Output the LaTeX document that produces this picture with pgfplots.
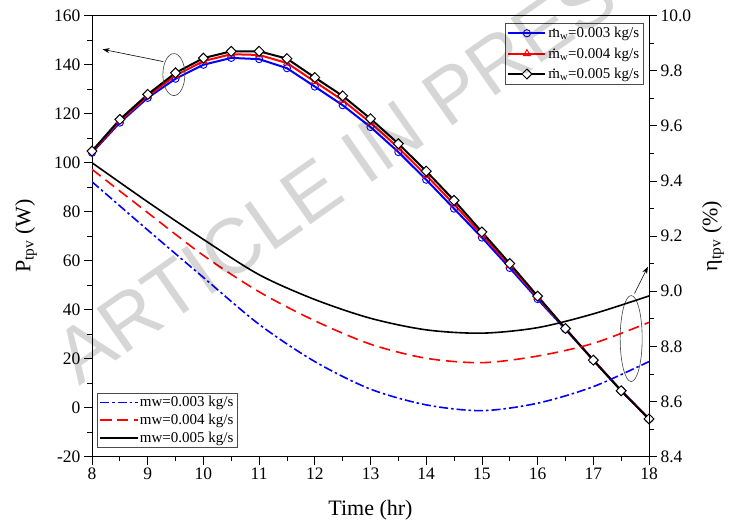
\documentclass[border=0pt]{standalone}
\usepackage{fontspec}
\setmainfont{Liberation Serif}
\newfontfamily\wmfont{Liberation Sans}
\usepackage{pgfplots}
\pgfplotsset{compat=1.18}
\usetikzlibrary{arrows.meta}
\newcommand{\mdot}{m\llap{\raisebox{0.5em}{.}\kern0.264em}}
\pgfplotsset{
  common/.style={
    scale only axis, width=557bp, height=441.2bp,
    at={(0,0)}, anchor=south west,
    xmin=8, xmax=18,
    tick align=outside,
    major tick length=8bp, minor tick length=4.5bp,
    tick style={black, line width=0.8pt},
    axis line style={line width=0.8pt},
    tick label style={font=\fontsize{17.5bp}{20bp}\selectfont},
    /pgf/number format/assume math mode=true,
    legend image code/.code={\draw[mark repeat=2,mark phase=2,##1] plot coordinates {(0bp,0bp)(18.5bp,0bp)(37bp,0bp)};},
  },
}
\begin{document}
\begin{tikzpicture}
\begin{axis}[common,
  ymin=-20, ymax=160,
  xtick={8,9,...,18}, minor x tick num=1,
  ytick={-20,0,20,40,60,80,100,120,140,160}, minor y tick num=1,
  xtick pos=bottom, ytick pos=left,
  xlabel={Time (hr)},
  ylabel={P\textsubscript{tpv} (W)},
  every axis x label/.style={at={(axis description cs:0.5,0)}, yshift=-54bp, anchor=center, font=\fontsize{22bp}{26bp}\selectfont},
  every axis y label/.style={at={(axis description cs:0,0.5)}, xshift=-66bp, rotate=90, anchor=center, font=\fontsize{22bp}{26bp}\selectfont},
  legend style={at={(0.99,0.983)}, anchor=north east, draw=black!70, line width=0.6pt,
    font=\fontsize{15bp}{18bp}\selectfont, row sep=4.5bp, inner xsep=2bp, inner ysep=2bp, cells={anchor=west}},
]
\addplot[blue, line width=2bp, mark=o, mark size=3.6bp, mark options={fill=white, line width=0.9bp}] coordinates {
(8,104.0)(8.5,116.3)(9,126.4)(9.5,134.2)(10,139.9)(10.5,142.7)(11,142.2)(11.5,138.5)(12,131.0)(12.5,123.4)(13,114.5)(13.5,104.3)(14,93.0)(14.5,81.2)(15,69.4)(15.5,57.0)(16,44.3)(16.5,32.0)(17,19.4)(17.5,7.0)(18,-4.6)};
\addlegendentry{\mdot\textsubscript{w}=0.003 kg/s}
\addplot[red, line width=2bp, mark=triangle, mark size=4bp, mark options={fill=white, line width=0.9bp}] coordinates {
(8,104.4)(8.5,117.0)(9,127.1)(9.5,135.5)(10,141.4)(10.5,144.2)(11,143.9)(11.5,140.6)(12,133.0)(12.5,125.4)(13,116.3)(13.5,106.0)(14,94.8)(14.5,83.0)(15,70.6)(15.5,58.0)(16,45.0)(16.5,32.2)(17,19.4)(17.5,7.0)(18,-4.6)};
\addlegendentry{\mdot\textsubscript{w}=0.004 kg/s}
\addplot[black, line width=2bp, mark=square*, mark size=3.5bp, mark options={fill=white, line width=1bp, rotate=45}] coordinates {
(8,104.7)(8.5,117.6)(9,127.8)(9.5,136.6)(10,142.6)(10.5,145.4)(11,145.4)(11.5,142.4)(12,134.7)(12.5,127.2)(13,117.9)(13.5,107.7)(14,96.5)(14.5,84.6)(15,71.7)(15.5,58.8)(16,45.5)(16.5,32.3)(17,19.4)(17.5,6.9)(18,-4.6)};
\addlegendentry{\mdot\textsubscript{w}=0.005 kg/s}
% annotations
\draw[black!75, line width=0.6pt] (axis cs:9.47,135.9) ellipse [x radius=11bp, y radius=21bp];
\draw[black, line width=0.6pt, -{Stealth[length=7bp, width=5bp]}] (axis cs:9.28,141.2) -- (axis cs:8.19,146.2);
\draw[black!75, line width=0.6pt] (axis cs:17.68,28.2) ellipse [x radius=11bp, y radius=43bp];
\draw[black, line width=0.6pt, -{Stealth[length=7bp, width=5bp]}] (axis cs:17.74,46.6) -- (axis cs:17.98,57.5);
\coordinate (wm) at (axis cs:12.75,101);
\end{axis}
\begin{axis}[common,
  ymin=8.4, ymax=10.0,
  axis x line=none, axis y line*=right,
  ytick={8.4,8.6,8.8,9.0,9.2,9.4,9.6,9.8,10.0}, minor y tick num=1,
  yticklabel style={/pgf/number format/.cd, fixed, fixed zerofill, precision=1},
  every axis y label/.style={at={(axis description cs:1,0.5)}, xshift=64bp, rotate=90, anchor=center, font=\fontsize{22bp}{26bp}\selectfont},
  ylabel={η\textsubscript{tpv} (\%)},
  legend style={at={(0.009,0.02)}, anchor=south west, draw=black!70, line width=0.6pt,
    font=\fontsize{15bp}{18bp}\selectfont, row sep=2bp, inner xsep=2bp, inner ysep=1.5bp, cells={anchor=west}},
]
\addplot[blue, line width=1.6bp, smooth, dash pattern=on 9bp off 3bp on 2.5bp off 3bp] coordinates {
(8,9.397)(9,9.222)(10,9.050)(11,8.880)(12,8.745)(13,8.645)(14,8.588)(15,8.567)(16,8.594)(17,8.654)(18,8.745)};
\addlegendentry{mw=0.003 kg/s}
\addplot[red, line width=1.6bp, smooth, dash pattern=on 11bp off 6bp] coordinates {
(8,9.442)(9,9.285)(10,9.130)(11,8.998)(12,8.893)(13,8.808)(14,8.757)(15,8.741)(16,8.765)(17,8.811)(18,8.887)};
\addlegendentry{mw=0.004 kg/s}
\addplot[black, line width=1.6bp, smooth] coordinates {
(8,9.466)(9,9.324)(10,9.188)(11,9.060)(12,8.970)(13,8.902)(14,8.860)(15,8.848)(16,8.868)(17,8.918)(18,8.983)};
\addlegendentry{mw=0.005 kg/s}
\end{axis}
\node[rotate=35, text=black, text opacity=0.16, font=\wmfont\fontsize{78bp}{84bp}\selectfont] at (wm) {ARTICLE IN PRESS};
\pgfresetboundingbox
\path[use as bounding box] (-92bp,-74.3bp) rectangle (641bp,456.7bp);
\end{tikzpicture}
\end{document}
